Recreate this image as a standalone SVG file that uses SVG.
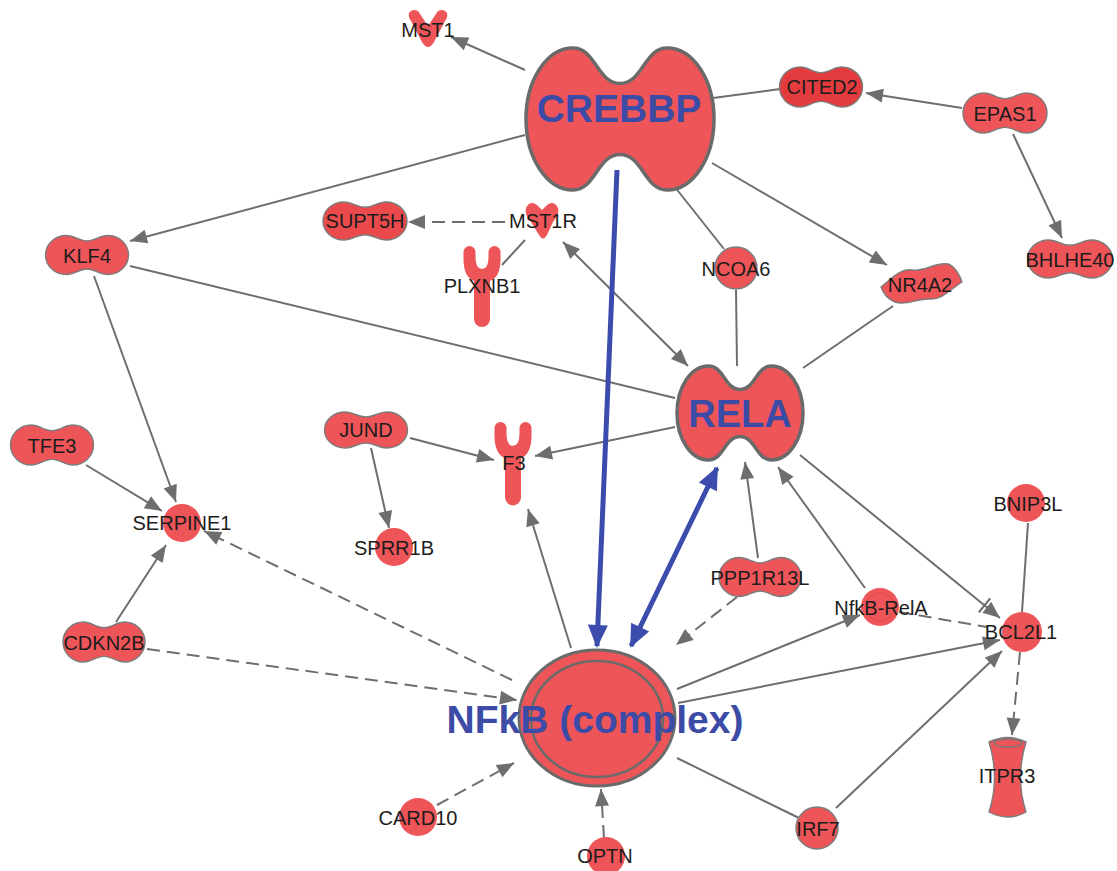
<svg xmlns="http://www.w3.org/2000/svg" xmlns:xlink="http://www.w3.org/1999/xlink" width="1117" height="871" viewBox="0 0 1117 871">
<style>
.nd{fill:#ee5558;stroke:#7c7c7c;stroke-width:1.4}
.big{fill:#ee5558;stroke:#6a6a6a;stroke-width:3.5}
.lb{font-family:"Liberation Sans",Arial,sans-serif;font-size:20px;fill:#1c1c1c;text-anchor:middle}
.bl{font-family:"Liberation Sans",Arial,sans-serif;font-weight:bold;fill:#3c4ba6;text-anchor:middle}
.e{stroke:#6e6e6e;stroke-width:2;fill:none}
.d{stroke-dasharray:13 7}
.b{stroke:#3b4cad;stroke-width:5;fill:none}
</style>
<defs>
<path id="pk" vector-effect="non-scaling-stroke" d="M0,-0.72 C0.2,-0.72 0.3,-1 0.5,-1 A0.5,1 0 0 1 0.5,1 C0.3,1 0.2,0.72 0,0.72 C-0.2,0.72 -0.3,1 -0.5,1 A0.5,1 0 0 1 -0.5,-1 C-0.3,-1 -0.2,-0.72 0,-0.72 Z"/>
<path id="pb" vector-effect="non-scaling-stroke" d="M0,-0.5 C0.24,-0.5 0.26,-1 0.5,-1 A0.5,1 0 0 1 0.5,1 C0.26,1 0.24,0.5 0,0.5 C-0.24,0.5 -0.26,1 -0.5,1 A0.5,1 0 0 1 -0.5,-1 C-0.26,-1 -0.24,-0.5 0,-0.5 Z"/>
<path id="yr" d="M-18.5,7 A6,6 0 0 1 -6.5,7 L-6.5,12 Q-6.5,24 0,24 Q6.5,24 6.5,12 L6.5,7 A6,6 0 0 1 18.5,7 L18.5,14 Q18.5,32 8,36 L8,74 A8,8 0 0 1 -8,74 L-8,36 Q-18.5,32 -18.5,14 Z"/>
<marker id="ah" markerUnits="userSpaceOnUse" markerWidth="18" markerHeight="14" refX="17" refY="7" orient="auto-start-reverse" overflow="visible"><path d="M0,0 L17,7 L0,14 z" fill="#6e6e6e"/></marker>
<marker id="ahbar" markerUnits="userSpaceOnUse" markerWidth="26" markerHeight="20" refX="24" refY="8" orient="auto" overflow="visible"><path d="M7,1 L24,8 L7,15 z" fill="#6e6e6e"/><path d="M4,-1 L4,17" stroke="#6e6e6e" stroke-width="2.2"/></marker>
<marker id="bh" markerUnits="userSpaceOnUse" markerWidth="24" markerHeight="20" refX="21" refY="10" orient="auto-start-reverse" overflow="visible"><path d="M0,0 L23,10 L0,20 z" fill="#3b4cad"/></marker>
</defs>
<rect width="1117" height="871" fill="#ffffff"/>
<g id="connectors">
<line class="e" x1="525" y1="70" x2="451" y2="37" marker-end="url(#ah)"/>
<line class="e" x1="713" y1="98" x2="780" y2="89"/>
<line class="e" x1="962" y1="108" x2="866" y2="93" marker-end="url(#ah)"/>
<line class="e" x1="1013" y1="134" x2="1062" y2="238" marker-end="url(#ah)"/>
<line class="e" x1="525" y1="135" x2="130" y2="241" marker-end="url(#ah)"/>
<line class="e" x1="712" y1="163" x2="887" y2="265" marker-end="url(#ah)"/>
<line class="e" x1="663" y1="172" x2="724" y2="249"/>
<line class="e d" x1="505" y1="222" x2="408" y2="222" marker-end="url(#ah)"/>
<line class="e" x1="525" y1="240" x2="502" y2="265"/>
<line class="e" x1="563" y1="242" x2="688" y2="366" marker-start="url(#ah)" marker-end="url(#ah)"/>
<line class="e" x1="130" y1="266" x2="675" y2="398"/>
<line class="e" x1="94" y1="276" x2="176" y2="502" marker-end="url(#ah)"/>
<line class="e" x1="736" y1="290" x2="737" y2="366"/>
<line class="e" x1="893" y1="306" x2="803" y2="368"/>
<line class="e" x1="675" y1="427" x2="535" y2="456" marker-end="url(#ah)"/>
<line class="e" x1="410" y1="438" x2="494" y2="460" marker-end="url(#ah)"/>
<line class="e" x1="371" y1="448" x2="389" y2="528" marker-end="url(#ah)"/>
<line class="e" x1="86" y1="465" x2="162" y2="511" marker-end="url(#ah)"/>
<line class="e d" x1="512" y1="680" x2="204" y2="531" marker-end="url(#ah)"/>
<line class="e" x1="116" y1="622" x2="166" y2="545" marker-end="url(#ah)"/>
<line class="e d" x1="147" y1="649" x2="517" y2="700" marker-end="url(#ah)"/>
<line class="e" x1="571" y1="648" x2="528" y2="509" marker-end="url(#ah)"/>
<line class="e" x1="758" y1="558" x2="745" y2="462" marker-end="url(#ah)"/>
<line class="e d" x1="737" y1="597" x2="676" y2="645" marker-end="url(#ah)"/>
<line class="e" x1="865" y1="588" x2="778" y2="467" marker-end="url(#ah)"/>
<line class="e" x1="800" y1="455" x2="1000" y2="618" marker-end="url(#ahbar)"/>
<line class="e d" x1="899" y1="612" x2="987" y2="627"/>
<line class="e" x1="677" y1="689" x2="860" y2="615" marker-end="url(#ah)"/>
<line class="e" x1="678" y1="703" x2="1000" y2="640" marker-end="url(#ah)"/>
<line class="e" x1="1028" y1="523" x2="1022" y2="612"/>
<line class="e d" x1="1020" y1="652" x2="1012" y2="735" marker-end="url(#ah)"/>
<line class="e" x1="836" y1="808" x2="1002" y2="651" marker-end="url(#ah)"/>
<line class="e" x1="677" y1="758" x2="799" y2="818"/>
<line class="e d" x1="437" y1="805" x2="514" y2="763" marker-end="url(#ah)"/>
<line class="e d" x1="604" y1="838" x2="601" y2="789" marker-end="url(#ah)"/>
<line class="b" x1="617" y1="170" x2="597" y2="646" marker-end="url(#bh)"/>
<line class="b" x1="631" y1="646" x2="717" y2="468" marker-start="url(#bh)" marker-end="url(#bh)"/>
</g>
<g id="CREBBP"><use href="#pb" class="big" transform="translate(620 119) scale(94 71)"/><text class="bl" x="619" y="122" font-size="39">CREBBP</text></g>
<g id="MST1"><path class="nd" d="M409,13 Q412,8 418,11 L428,26 L438,11 Q444,8 447,13 Q448,17 445,21 L434,42 Q428,52 422,42 L411,21 Q408,17 409,13 Z" style="stroke:none"/><text class="lb" x="428" y="37">MST1</text></g>
<g id="CITED2"><use href="#pk" class="nd" style="fill:#e43c3e" transform="translate(821 87) scale(41.5 20)"/><text class="lb" x="822" y="94">CITED2</text></g>
<g id="EPAS1"><use href="#pk" class="nd" transform="translate(1005 113) scale(42 20)"/><text class="lb" x="1005" y="121">EPAS1</text></g>
<g id="BHLHE40"><use href="#pk" class="nd" transform="translate(1070 259) scale(42.5 19)"/><text class="lb" x="1070" y="267">BHLHE40</text></g>
<g id="SUPT5H"><use href="#pk" class="nd" style="fill:#ea4a4c" transform="translate(365 221) scale(42 19)"/><text class="lb" x="365" y="228">SUPT5H</text></g>
<g id="MST1R"><path class="nd" d="M526,208 Q530,200 537,205 L542,210 L547,205 Q554,200 558,208 Q560,214 553,222 L547,235 Q543,242 539,235 L531,222 Q524,214 526,208 Z" style="stroke:none"/><text class="lb" x="543" y="228">MST1R</text></g>
<g id="PLXNB1"><use href="#yr" class="nd" style="stroke:none" transform="translate(482 245)"/><text class="lb" x="482" y="293">PLXNB1</text></g>
<g id="KLF4"><use href="#pk" class="nd" transform="translate(87 255) scale(41.5 19.5)"/><text class="lb" x="87" y="263">KLF4</text></g>
<g id="NCOA6"><circle class="nd" cx="736" cy="268" r="21"/><text class="lb" x="736" y="276">NCOA6</text></g>
<g id="NR4A2"><path class="nd" d="M881,287 C890,280 900,268 912,270 C925,272 935,262 948,264 C955,266 960,276 962,282 C952,288 942,300 930,299 C918,298 906,306 895,302 C888,299 883,293 881,287 Z"/><text class="lb" x="920" y="292">NR4A2</text></g>
<g id="RELA"><use href="#pb" class="big" transform="translate(740 413) scale(63 47)"/><text class="bl" x="740" y="427" font-size="38">RELA</text></g>
<g id="TFE3"><use href="#pk" class="nd" transform="translate(52 445) scale(41.5 20)"/><text class="lb" x="52" y="453">TFE3</text></g>
<g id="JUND"><use href="#pk" class="nd" transform="translate(366 430) scale(41.5 18)"/><text class="lb" x="366" y="437">JUND</text></g>
<g id="F3"><use href="#yr" class="nd" style="stroke:none" transform="translate(513 421) scale(1 1.03)"/><text class="lb" x="514" y="470">F3</text></g>
<g id="SERPINE1"><circle class="nd" cx="182" cy="523" r="19" style="stroke:none"/><text class="lb" x="182" y="530">SERPINE1</text></g>
<g id="SPRR1B"><circle class="nd" cx="394" cy="547" r="19" style="stroke:none"/><text class="lb" x="394" y="555">SPRR1B</text></g>
<g id="BNIP3L"><circle class="nd" cx="1026" cy="503" r="19" style="stroke:none"/><text class="lb" x="1028" y="511">BNIP3L</text></g>
<g id="PPP1R13L"><use href="#pk" class="nd" transform="translate(760 577) scale(41 19.5)"/><text class="lb" x="760" y="585">PPP1R13L</text></g>
<g id="NfkB-RelA"><circle class="nd" cx="880" cy="607" r="19" style="stroke:none"/><circle cx="880" cy="607" r="14" fill="none" stroke="#d94a4c" stroke-width="1"/><text class="lb" x="881" y="615">NfkB-RelA</text></g>
<g id="BCL2L1"><circle class="nd" cx="1022" cy="632" r="20" style="stroke:none"/><text class="lb" x="1021" y="639">BCL2L1</text></g>
<g id="CDKN2B"><use href="#pk" class="nd" transform="translate(104 642) scale(41 20)"/><text class="lb" x="104" y="650">CDKN2B</text></g>
<g id="NFkB-complex"><ellipse class="big" cx="597" cy="718" rx="78" ry="68" style="stroke-width:3"/><ellipse cx="597" cy="719" rx="66" ry="58" fill="none" stroke="#6a6a6a" stroke-width="2.5"/><text class="bl" x="595" y="733" font-size="39">NFkB (complex)</text></g>
<g id="ITPR3"><path class="nd" d="M989,742 Q1008,733 1026,742 Q1015,778 1026,812 Q1008,822 989,812 Q1000,778 989,742 Z"/><ellipse cx="1008" cy="743" rx="14" ry="4" fill="none" stroke="#777" stroke-width="1.3"/><text class="lb" x="1007" y="783">ITPR3</text></g>
<g id="CARD10"><circle class="nd" cx="418" cy="817" r="19" style="stroke:none"/><text class="lb" x="418" y="825">CARD10</text></g>
<g id="OPTN"><circle class="nd" cx="606" cy="856" r="19" style="stroke:none"/><text class="lb" x="605" y="863">OPTN</text></g>
<g id="IRF7"><circle class="nd" cx="817" cy="828" r="21"/><text class="lb" x="818" y="836">IRF7</text></g>
</svg>
